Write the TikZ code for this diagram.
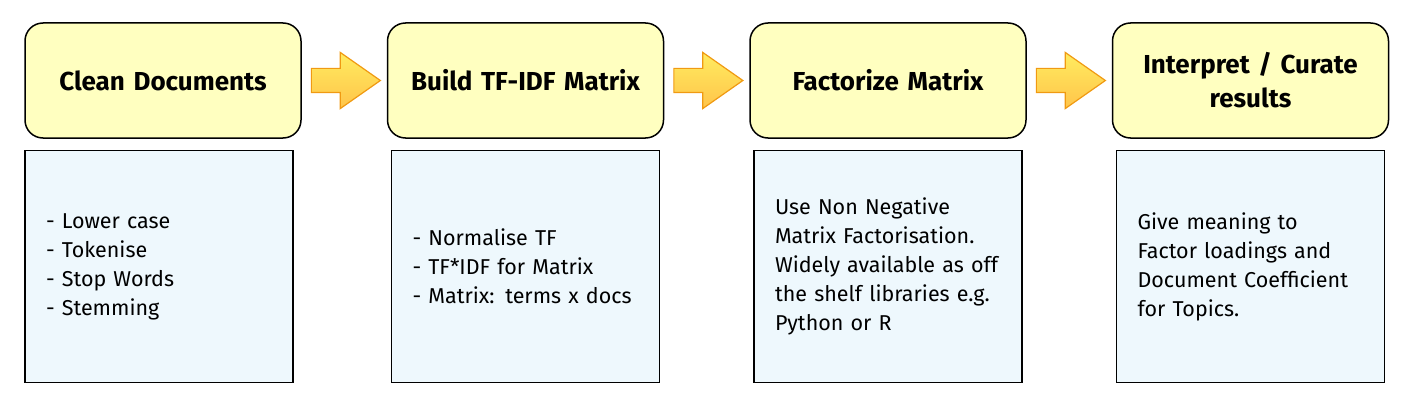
\documentclass[tikz,border=0pt]{standalone}
\usepackage{fontspec}
\setmainfont{Fira Sans}
\usepackage{xcolor}
\usepackage{tikz}
\usetikzlibrary{positioning,calc,shapes.arrows}
\definecolor{stagefill}{HTML}{FFFFC0}
\definecolor{notefill}{HTML}{EEF8FD}
\definecolor{flowdraw}{HTML}{F09A12}
\definecolor{flowtop}{HTML}{FFEC60}
\definecolor{flowbottom}{HTML}{FFC44A}

\begin{document}
\begin{tikzpicture}[x=1pt,y=-1pt,
  stage/.style={draw=black,line width=1.5pt,fill=stagefill,rounded corners=18pt,
    minimum width=276pt,minimum height=115pt,text width=256pt,align=center,
    inner sep=0pt,font=\fontsize{26}{34}\selectfont\bfseries},
  notes/.style={draw=black,line width=1.5pt,fill=notefill,minimum height=232pt,
    text width=226pt,align=left,inner xsep=21pt,inner ysep=0pt,
    font=\fontsize{21.5}{29}\selectfont},
  flow/.style={single arrow,draw=flowdraw,line width=1.2pt,top color=flowtop,
    bottom color=flowbottom,minimum height=69pt,inner xsep=0pt,inner ysep=11.5pt,
    single arrow head extend=16pt,single arrow tip angle=70,anchor=tail}]
\useasboundingbox (0,0) rectangle (1404,401);
\node[stage] (clean) at (163,80.5) {Clean Documents};
\node[stage,right=85pt of clean] (tfidf) {Build TF-IDF Matrix};
\node[stage,right=85pt of tfidf] (factor) {Factorize Matrix};
\node[stage,right=85pt of factor] (curate) {Interpret / Curate\\results};
\node[notes,below=11pt of clean,xshift=-4pt] (cleannote) {- Lower case\\- Tokenise\\- Stop Words\\- Stemming};
\node[notes,below=11pt of tfidf] (tfidfnote) {- Normalise TF\\- TF*IDF for Matrix\\- Matrix: terms x docs};
\node[notes,below=11pt of factor] (factornote) {Use Non Negative\\Matrix Factorisation.\\Widely available as off\\the shelf libraries e.g.\\Python or R};
\node[notes,below=11pt of curate] (curatenote) {Give meaning to\\Factor loadings and\\Document Coefficient\\for Topics.};
\foreach \a/\b in {clean/tfidf,tfidf/factor,factor/curate}
  \node[flow] (to-\b) at ($(\a.east)+(9pt,0)$) {};
\end{tikzpicture}
\end{document}
